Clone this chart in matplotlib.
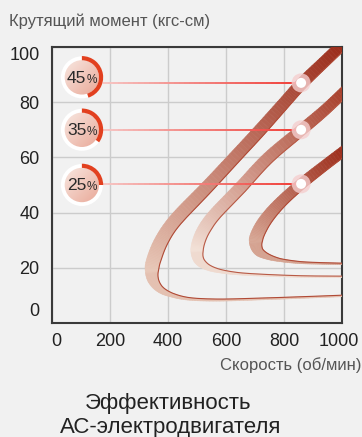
import numpy as np
import matplotlib
matplotlib.use('Agg')
import matplotlib.pyplot as plt
from matplotlib.collections import PolyCollection, LineCollection
from matplotlib.patches import Circle, Wedge
from matplotlib.transforms import ScaledTranslation
from matplotlib.colors import to_rgb

# --- datos ---
x_ticks = [0, 200, 400, 600, 800, 1000]
y_ticks = [0, 20, 40, 60, 80, 100]

speed_45 = [1028, 945, 859, 800, 717, 628, 535, 448, 407, 379, 359, 345, 348, 372, 414, 476, 579, 717, 855, 1000]
torque_45 = [103.6, 95.3, 86.6, 79.7, 69.9, 59.8, 49.3, 39.9, 34.8, 30.1, 25.4, 20.3, 15.9, 12.3, 10.1, 8.7, 8.3, 8.7, 9.2, 9.8]

speed_35 = [1021, 941, 859, 745, 652, 566, 531, 510, 500, 507, 535, 579, 648, 752, 872, 1000]
torque_35 = [85.1, 77.2, 69.9, 59.8, 49.3, 39.9, 35.1, 30.8, 26.4, 22.8, 20.3, 18.8, 17.8, 17.2, 16.8, 16.7]

speed_25 = [1028, 941, 859, 797, 752, 721, 703, 710, 738, 786, 855, 924, 1000]
torque_25 = [64.1, 57.2, 50.4, 44.6, 39.5, 34.8, 30.1, 26.4, 24.3, 22.8, 21.9, 21.6, 21.4]

loads = ['45', '35', '25']
load_frac = [0.45, 0.35, 0.25]
marker_speed = [859, 859, 859]
marker_torque = [87, 70, 50.4]
badge_torque = [89, 70, 50]
badge_speed = 103

# anchos de la cinta en px (estilo)
width_45 = [11, 11, 11.5, 11.5, 12, 12, 12.5, 13, 13, 13.5, 14, 14, 11, 7, 4, 2.5, 2, 1.8, 1.6, 1.5]
width_35 = [10.5, 10.5, 11, 11.5, 12, 12, 12.5, 12.5, 12.5, 10, 6, 3.5, 2.2, 1.8, 1.6, 1.5]
width_25 = [10, 10, 10.5, 11, 12, 13, 13.5, 10, 6, 3, 2, 1.6, 1.5]

BG = '#f1f1f1'
plt.rcParams['font.family'] = ['Liberation Sans', 'DejaVu Sans']

fig = plt.figure(figsize=(3.62, 4.37), dpi=100, facecolor=BG)
ax = fig.add_axes([52/362, 1-323/437, 290/362, 276/437])
ax.set_facecolor(BG)
ax.set_xlim(0, 1000)
ax.set_ylim(0, 100)


def mix(c1, c2, s):
    a, b = np.array(to_rgb(c1)), np.array(to_rgb(c2))
    return tuple(b + (a - b) * s)


def draw_ribbon(xs, ys, widths, c_top, c_nose, c_edge):
    pts = ax.transData.transform(np.column_stack([xs, ys]))
    w = np.asarray(widths, float)
    P = np.vstack([pts[0] * 2 - pts[1], pts, pts[-1] * 2 - pts[-2]])
    W = np.concatenate([[w[0]], w, [w[-1]]])
    dense, dw = [], []
    # suavizado tipo Catmull-Rom solo para el trazado
    for i in range(1, len(P) - 2):
        p0, p1, p2, p3 = P[i-1], P[i], P[i+1], P[i+2]
        for t in np.linspace(0, 1, 10, endpoint=False):
            pt = 0.5 * (2*p1 + (-p0 + p2)*t + (2*p0 - 5*p1 + 4*p2 - p3)*t*t
                        + (-p0 + 3*p1 - 3*p2 + p3)*t**3)
            dense.append(pt)
            dw.append(W[i] + (W[i+1] - W[i]) * t)
    dense.append(pts[-1]); dw.append(w[-1])
    dense, dw = np.array(dense), np.array(dw)

    d = np.gradient(dense, axis=0)
    n = np.column_stack([-d[:, 1], d[:, 0]])
    n /= np.linalg.norm(n, axis=1)[:, None]
    left = dense - n * dw[:, None] / 2
    right = dense + n * dw[:, None] / 2

    nose = np.argmin(dense[:, 0])
    y0, yn = dense[0, 1], dense[nose, 1]
    shade = np.empty(len(dense))
    shade[:nose+1] = np.clip((dense[:nose+1, 1] - yn) / (y0 - yn), 0, 1)
    shade[nose+1:] = 0.05

    inv = ax.transData.inverted()
    L, R = inv.transform(left), inv.transform(right)
    quads, cols = [], []
    for i in range(len(dense) - 1):
        quads.append([L[i], L[i+1], R[i+1], R[i]])
        cols.append(mix(c_top, c_nose, (shade[i] + shade[i+1]) / 2))
    pc = PolyCollection(quads, facecolors=cols, edgecolors=cols, linewidths=0.4, zorder=3)
    ax.add_collection(pc)
    ax.plot(R[:, 0], R[:, 1], color=c_edge, lw=0.8, zorder=3.5, solid_capstyle='butt')


draw_ribbon(speed_45, torque_45, width_45, '#982614', '#e8c8b8', '#b04a36')
draw_ribbon(speed_35, torque_35, width_35, '#a63c28', '#f3e2d8', '#b85a46')
draw_ribbon(speed_25, torque_25, width_25, '#9a2816', '#d8a896', '#b04a36')

# --- grid y ejes ---
ax.set_xticks(x_ticks)
ax.set_yticks(y_ticks)
ax.grid(True, color='#cccccc', lw=1, zorder=0)
ax.set_axisbelow(True)
for s in ax.spines.values():
    s.set_color('#3a3a3a')
    s.set_linewidth(1.5)
ax.tick_params(length=0, labelsize=13, colors='#222222', pad=7)
ax.tick_params(axis='y', pad=9)

# desplazar algunas etiquetas como en la imagen
ylabs = ax.get_yticklabels()
ylabs[0].set_transform(ylabs[0].get_transform() + ScaledTranslation(0, 13/100, fig.dpi_scale_trans))
ylabs[-1].set_transform(ylabs[-1].get_transform() + ScaledTranslation(0, -7/100, fig.dpi_scale_trans))
xlabs = ax.get_xticklabels()
xlabs[0].set_transform(xlabs[0].get_transform() + ScaledTranslation(4/100, 0, fig.dpi_scale_trans))
xlabs[-1].set_transform(xlabs[-1].get_transform() + ScaledTranslation(-3/100, 0, fig.dpi_scale_trans))

# --- lineas, marcadores e insignias ---
for i in range(3):
    # linea degradada desde la insignia hasta el punto
    x_start = ax.transData.inverted().transform(
        ax.transData.transform((badge_speed, marker_torque[i])) + [21, 0])[0]
    xs = np.linspace(x_start, marker_speed[i], 40)
    segs = [[(xs[j], marker_torque[i]), (xs[j+1], marker_torque[i])] for j in range(len(xs)-1)]
    cols = [mix('#f03a34', '#f7c4c2', j / (len(segs)-1)) for j in range(len(segs))]
    ax.add_collection(LineCollection(segs, colors=cols, linewidths=1.4, zorder=4))

    off = ScaledTranslation(marker_speed[i], marker_torque[i], ax.transData)
    ax.add_patch(Circle((0, 0), 0.095, transform=fig.dpi_scale_trans + off,
                        color='#f5cfcf', alpha=0.8, zorder=5, lw=0))
    ax.add_patch(Circle((0, 0), 0.05, transform=fig.dpi_scale_trans + off,
                        color='white', zorder=6, lw=0))

    boff = ScaledTranslation(badge_speed, badge_torque[i], ax.transData)
    btr = fig.dpi_scale_trans + boff
    ax.add_patch(Circle((0, 0), 0.21, transform=btr, color='white', zorder=5, lw=0))
    disc = Circle((0, 0), 0.172, transform=btr, color='none', zorder=6, lw=0)
    ax.add_patch(disc)
    grad = np.add.outer(np.linspace(0, 1, 50), np.linspace(0, 1, 50)) / 2
    img_rgb = np.array([[mix('#e9a897', '#f8e8e2', v) for v in row] for row in grad])
    im = ax.imshow(img_rgb, extent=(-0.18, 0.18, -0.18, 0.18), transform=btr,
                   origin='upper', zorder=6, interpolation='bilinear')
    im.set_clip_path(disc)
    ax.add_patch(Wedge((0, 0), 0.213, 90 - 360 * load_frac[i], 90, width=0.042,
                       transform=btr, color='#e2401f', zorder=7, lw=0))
    ax.text(0.045, -0.055, loads[i], transform=btr, ha='right', va='baseline',
            fontsize=12.5, color='#2a2a2a', zorder=8)
    ax.text(0.045, -0.055, '%', transform=btr, ha='left', va='baseline',
            fontsize=8.5, color='#2a2a2a', zorder=8)

ax.set_xlim(0, 1000)
ax.set_ylim(0, 100)

# --- textos ---
fig.text(9/362, 1-21/437, 'Крутящий момент (кгс-см)', fontsize=12, color='#555555',
         ha='left', va='center')
fig.text(361/362, 1-365/437, 'Скорость (об/мин)', fontsize=12, color='#555555',
         ha='right', va='center')
fig.text(168/362, 1-403/437, 'Эффективность', fontsize=16, color='#222222',
         ha='center', va='center')
fig.text(171/362, 1-427/437, 'АС-электродвигателя', fontsize=16, color='#222222',
         ha='center', va='center')

fig.savefig('out.png', dpi=100, facecolor=BG)
